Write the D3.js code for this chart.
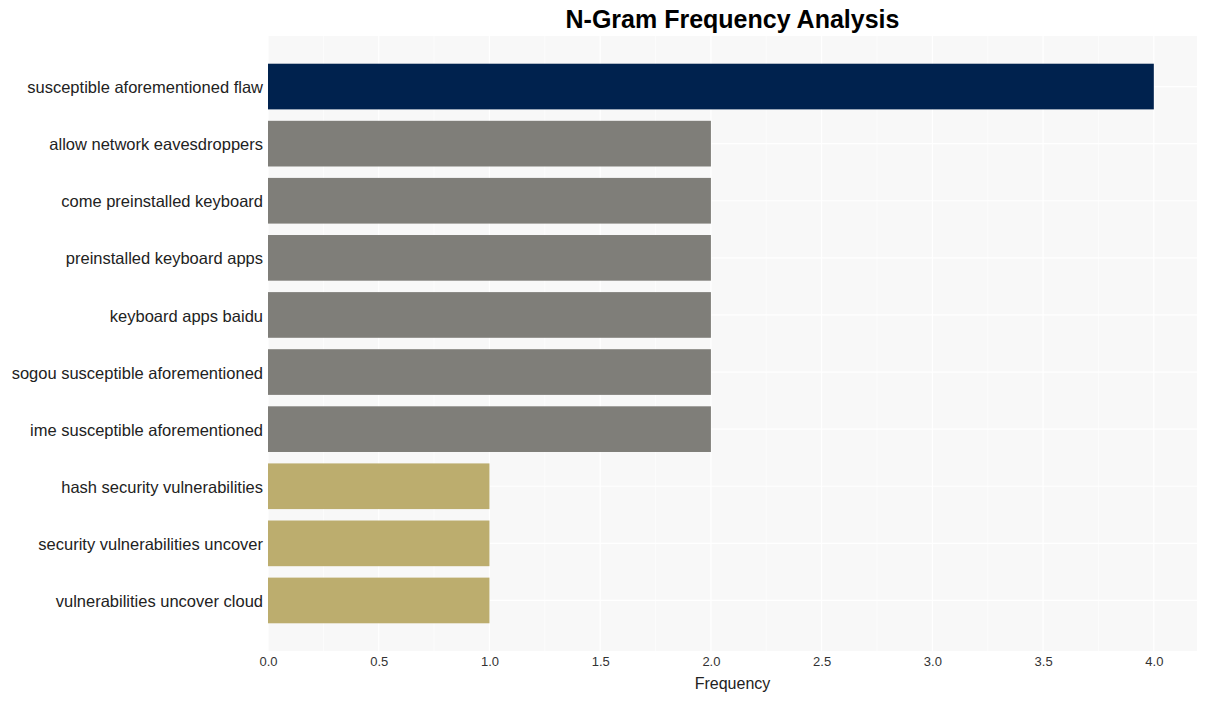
<!DOCTYPE html>
<html lang="en">
<head>
<meta charset="UTF-8">
<title>N-Gram Frequency Analysis</title>
<style>
  body { margin: 0; background: #fff; font-family: 'Liberation Sans', Arial, sans-serif; }
</style>
</head>
<body>
<svg id="chart" width="1208" height="701"></svg>
<script src="https://d3js.org/d3.v7.min.js"></script>
<script>
// n-gram labels, top to bottom
const ngrams = [
  "susceptible aforementioned flaw",
  "allow network eavesdroppers",
  "come preinstalled keyboard",
  "preinstalled keyboard apps",
  "keyboard apps baidu",
  "sogou susceptible aforementioned",
  "ime susceptible aforementioned",
  "hash security vulnerabilities",
  "security vulnerabilities uncover",
  "vulnerabilities uncover cloud"
];
const counts = [4, 2, 2, 2, 2, 2, 2, 1, 1, 1];
const xTicks = [0, 0.5, 1, 1.5, 2, 2.5, 3, 3.5, 4];

const svg = d3.select("#chart");
const plotL = 268, plotR = 1197, plotT = 36, plotB = 651;

const x = d3.scaleLinear().domain([0, 4.195]).range([plotL, plotR]);
const y = d3.scaleBand().domain(ngrams).range([58, 629])
  .paddingInner(0.2).paddingOuter(0.1);

// colour by count
const color = d => d >= 4 ? "#00224e" : d >= 2 ? "#7f7e79" : "#bcad6e";

// plot background
svg.append("rect")
  .attr("x", plotL).attr("y", plotT)
  .attr("width", plotR - plotL).attr("height", plotB - plotT)
  .attr("fill", "#f8f8f8");

// grid
svg.append("g").selectAll("line")
  .data(xTicks.concat(xTicks.map(t => t + 0.25)))
  .join("line")
  .attr("x1", d => x(d)).attr("x2", d => x(d))
  .attr("y1", plotT).attr("y2", plotB)
  .attr("stroke", "#fff").attr("stroke-width", d => d % 0.5 === 0 ? 1.2 : 0.6);

svg.append("g").selectAll("line")
  .data(ngrams)
  .join("line")
  .attr("x1", plotL).attr("x2", plotR)
  .attr("y1", d => y(d) + y.bandwidth() / 2)
  .attr("y2", d => y(d) + y.bandwidth() / 2)
  .attr("stroke", "#fff").attr("stroke-width", 1.2);

// bars
svg.append("g").selectAll("rect")
  .data(ngrams)
  .join("rect")
  .attr("x", x(0))
  .attr("y", d => y(d))
  .attr("width", (d, i) => x(counts[i]) - x(0))
  .attr("height", y.bandwidth())
  .attr("fill", (d, i) => color(counts[i]));

// x axis
const xAxis = svg.append("g")
  .attr("transform", `translate(0,${plotB})`)
  .call(d3.axisBottom(x).tickValues(xTicks).tickFormat(d3.format(".1f")).tickSize(0).tickPadding(6));
xAxis.select(".domain").remove();
xAxis.selectAll("text").attr("font-size", 13).attr("fill", "#333")
  .attr("font-family", "'Liberation Sans', Arial, sans-serif");

// y axis
const yAxis = svg.append("g")
  .attr("transform", `translate(${plotL},0)`)
  .call(d3.axisLeft(y).tickSize(0).tickPadding(5));
yAxis.select(".domain").remove();
yAxis.selectAll("text").attr("font-size", 16.5).attr("fill", "#222")
  .attr("dy", "0.4em")
  .attr("font-family", "'Liberation Sans', Arial, sans-serif");

// axis title
svg.append("text")
  .attr("x", (plotL + plotR) / 2).attr("y", 689)
  .attr("text-anchor", "middle")
  .attr("font-size", 16).attr("fill", "#222")
  .text("Frequency");

// chart title
svg.append("text")
  .attr("x", (plotL + plotR) / 2).attr("y", 28)
  .attr("text-anchor", "middle")
  .attr("font-size", 25).attr("font-weight", "bold").attr("fill", "#000")
  .text("N-Gram Frequency Analysis");
</script>
</body>
</html>
